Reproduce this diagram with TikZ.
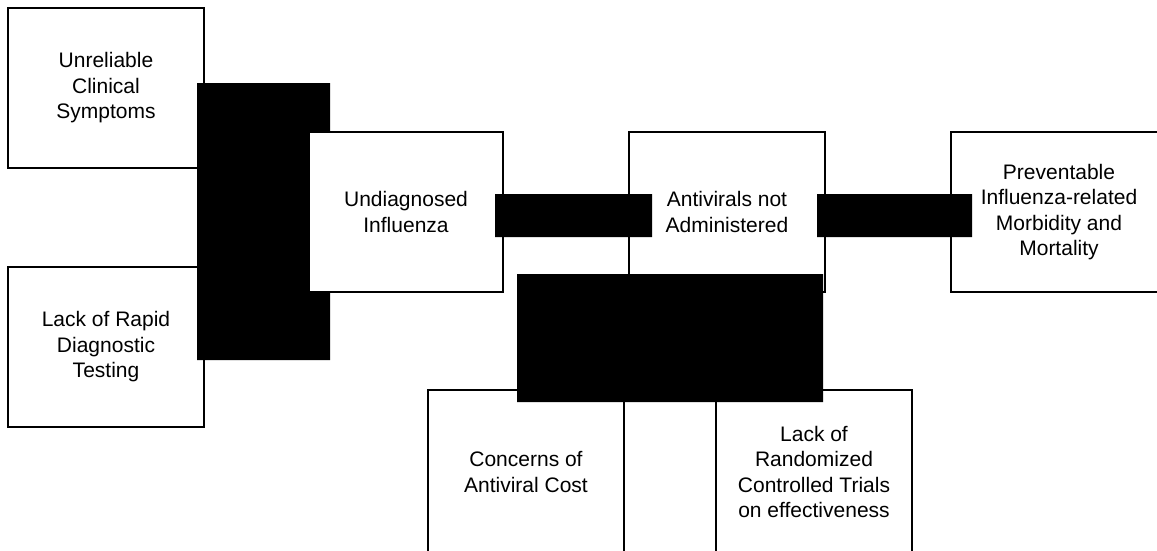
\documentclass[tikz,border=0pt]{standalone}
\usepackage{fontspec}
\setmainfont{Liberation Sans}
\usepackage{tikz}

\tikzset{causebox/.style = {draw, rectangle, fill = white, line width = 1.8pt, inner sep = 0pt,
        minimum width = 196pt, minimum height = 160pt, align = center,
        font = \fontsize{21}{25.5}\selectfont}}

\begin{document}
\begin{tikzpicture}[x = 1pt, y = -1pt]
            % \draw [help lines,step = 50] (0,0) grid (1157,550);
            \useasboundingbox (0,0) rectangle (1157,550);
            \clip (0,0) rectangle (1157,550);

            \definecolor{blockColor}{RGB}{0,0,0};

            % causes on the left
            \node [causebox] (symptoms) at (106,88) {Unreliable\\Clinical\\Symptoms};
            \node [causebox] (testing) at (106,347) {Lack of Rapid\\Diagnostic\\Testing};

            \path [fill = blockColor] (197,83) -- (330,83) -- (330,360) -- (197,360) -- (197,83);

            % main chain
            \node [causebox, minimum width = 194pt] (undiagnosed) at (406,212) {Undiagnosed\\Influenza};
            \node [causebox] (antivirals) at (727,212) {Antivirals not\\Administered};
            \node [causebox, minimum width = 216pt] (outcome) at (1059,212) {Preventable\\Influenza-related\\Morbidity and\\Mortality};

            % causes below
            \node [causebox, minimum height = 164pt] (cost) at (526,472) {Concerns of\\Antiviral Cost};
            \node [causebox, minimum height = 164pt] (trials) at (814,472) {Lack of\\Randomized\\Controlled Trials\\on effectiveness};

            \path [fill = blockColor] (495,194) -- (652,194) -- (652,237) -- (495,237) -- (495,194);
            \path [fill = blockColor] (817,194) -- (972,194) -- (972,237) -- (817,237) -- (817,194);
            \path [fill = blockColor] (517,274) -- (823,274) -- (823,402) -- (517,402) -- (517,274);

\end{tikzpicture}
\end{document}
